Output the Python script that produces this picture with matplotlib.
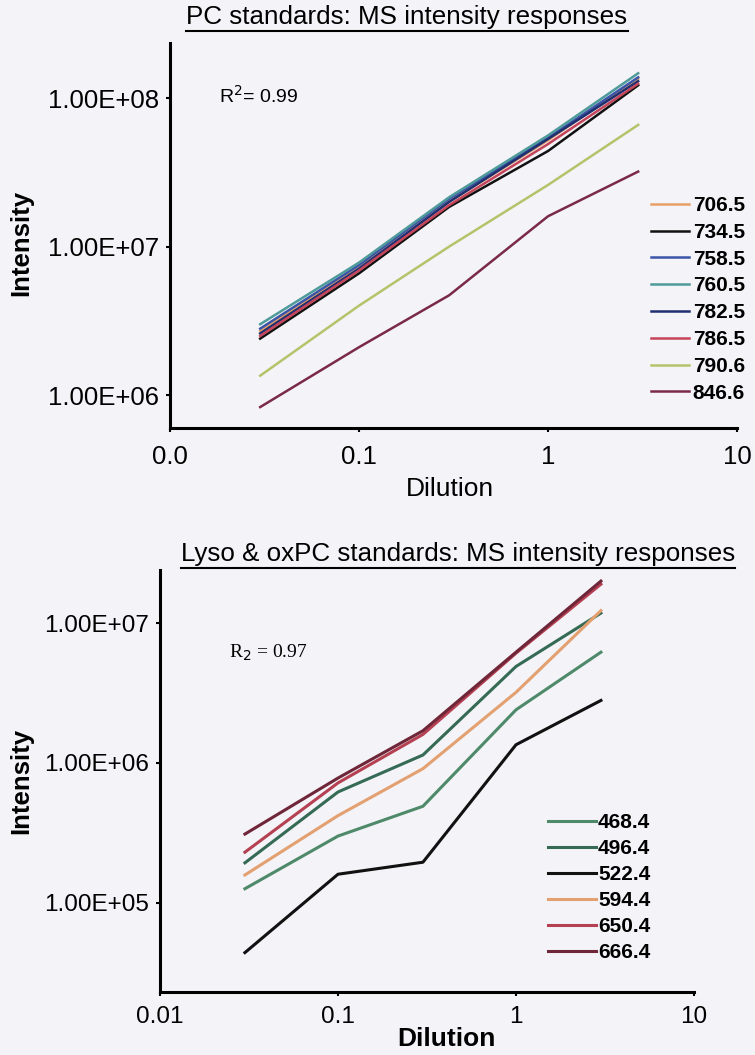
import numpy as np
import matplotlib
matplotlib.use('Agg')
import matplotlib.pyplot as plt
from matplotlib.lines import Line2D

plt.rcParams['font.family'] = ['Liberation Sans', 'DejaVu Sans']

# dilution points shared by both panels
dilution = [0.03, 0.1, 0.3, 1, 3]

# PC standards (top)
pc_labels = ['706.5', '734.5', '758.5', '760.5', '782.5', '786.5', '790.6', '846.6']
pc_values = [
    [2.7e6, 7.2e6, 2.0e7, 5.2e7, 1.35e8],
    [2.4e6, 6.6e6, 1.85e7, 4.4e7, 1.22e8],
    [2.8e6, 7.5e6, 2.1e7, 5.4e7, 1.38e8],
    [3.0e6, 7.8e6, 2.15e7, 5.6e7, 1.47e8],
    [2.6e6, 7.1e6, 2.0e7, 5.3e7, 1.30e8],
    [2.5e6, 6.9e6, 1.9e7, 4.9e7, 1.25e8],
    [1.35e6, 4.0e6, 1.0e7, 2.6e7, 6.6e7],
    [8.3e5, 2.1e6, 4.7e6, 1.6e7, 3.2e7],
]
pc_colors = ['#e8a066', '#111111', '#3a55a8', '#4f9a9a', '#1f2f70', '#c4445a', '#b5c46a', '#7a2a48']

# Lyso & oxPC standards (bottom)
ox_labels = ['468.4', '496.4', '522.4', '594.4', '650.4', '666.4']
ox_values = [
    [1.26e5, 3.0e5, 4.9e5, 2.4e6, 6.2e6],
    [1.93e5, 6.2e5, 1.14e6, 4.9e6, 1.18e7],
    [4.4e4, 1.6e5, 1.95e5, 1.35e6, 2.8e6],
    [1.58e5, 4.2e5, 9.1e5, 3.2e6, 1.23e7],
    [2.3e5, 7.2e5, 1.6e6, 6.1e6, 1.9e7],
    [3.1e5, 7.8e5, 1.7e6, 6.2e6, 2.0e7],
]
ox_colors = ['#4e8a6a', '#356a55', '#111111', '#e3a070', '#b44052', '#6e2638']

xticks = [0.01, 0.1, 1, 10]
top_xlabels = ['0.0', '0.1', '1', '10']
bot_xlabels = ['0.01', '0.1', '1', '10']

bg = '#f3f3f8'
fig = plt.figure(figsize=(7.55, 10.55), dpi=100, facecolor=bg)
W, H = 755, 1055


def setup(ax, ylim, yticks, xlabels, xlab_weight, xpad, tsize):
    ax.set_facecolor(bg)
    ax.set_xscale('log')
    ax.set_yscale('log')
    ax.set_xlim(0.01, 10)
    ax.set_ylim(*ylim)
    ax.set_xticks(xticks)
    ax.set_xticklabels(xlabels)
    ax.set_yticks(yticks)
    ax.set_yticklabels([f'{v:.2E}' for v in yticks])
    ax.minorticks_off()
    for s in ['top', 'right']:
        ax.spines[s].set_visible(False)
    for s in ['left', 'bottom']:
        ax.spines[s].set_linewidth(2.2)
    ax.tick_params(length=3, width=1.5, labelsize=tsize)
    ax.tick_params(axis='y', pad=5)
    ax.tick_params(axis='x', pad=xpad)
    ax.set_ylabel('Intensity', fontsize=18.5, fontweight='bold')
    ax.set_xlabel('Dilution', fontsize=19, fontweight=xlab_weight)


def underline_title(text, cx, cy, size):
    t = fig.text(cx / W, 1 - cy / H, text, fontsize=size, ha='center', va='center')
    fig.canvas.draw()
    bb = t.get_window_extent()
    y = bb.y0 - 2
    fig.add_artist(Line2D([bb.x0 / W, bb.x1 / W], [y / H, y / H], color='black', lw=1.5,
                          transform=fig.transFigure))


# top panel
ax1 = fig.add_axes([170 / W, 1 - 428 / H, 567 / W, 385 / H])
setup(ax1, (6.0e5, 2.35e8), [1e6, 1e7, 1e8], top_xlabels, 'normal', 9, 18.5)
ax1.yaxis.set_label_coords((33 - 170) / 567, 0.48)
ax1.xaxis.set_label_coords((450 - 170) / 567, -(477 - 428) / 385)
for lab, vals, c in zip(pc_labels, pc_values, pc_colors):
    ax1.plot(dilution, vals, color=c, lw=1.8, label=lab)
ax1.text(219 / W, 1 - 96 / H, 'R$^2$= 0.99', fontsize=14, transform=fig.transFigure, va='center')
fig.legend(*ax1.get_legend_handles_labels(), loc='upper left',
           bbox_to_anchor=(651 / W, 1 - 196 / H), frameon=False,
           prop={'weight': 'bold', 'size': 15}, handlelength=1.8, handletextpad=0.2,
           labelspacing=0.375, borderpad=0, borderaxespad=0)

# bottom panel
ax2 = fig.add_axes([160 / W, 1 - 992 / H, 534 / W, 422 / H])
setup(ax2, (2.3e4, 2.4e7), [1e5, 1e6, 1e7], bot_xlabels, 'bold', 7, 17.5)
ax2.yaxis.set_label_coords((33 - 160) / 534, 0.5)
ax2.xaxis.set_label_coords((446 - 160) / 534, -(1039 - 992) / 422)
ax2.xaxis.label.set_verticalalignment('center')
for lab, vals, c in zip(ox_labels, ox_values, ox_colors):
    ax2.plot(dilution, vals, color=c, lw=2.2, label=lab)
fig.text(229 / W, 1 - 653 / H, 'R$_2$ = 0.97', fontsize=14, family='Liberation Serif', va='center')
fig.legend(*ax2.get_legend_handles_labels(), loc='upper left',
           bbox_to_anchor=(548 / W, 1 - 813 / H), frameon=False,
           prop={'weight': 'bold', 'size': 15}, handlelength=2.3, handletextpad=0.1,
           labelspacing=0.34, borderpad=0, borderaxespad=0)

underline_title('PC standards: MS intensity responses', 407, 17, 18.7)
underline_title('Lyso & oxPC standards: MS intensity responses', 458, 554, 18.7)

fig.savefig('out.png', dpi=100, facecolor=bg)
